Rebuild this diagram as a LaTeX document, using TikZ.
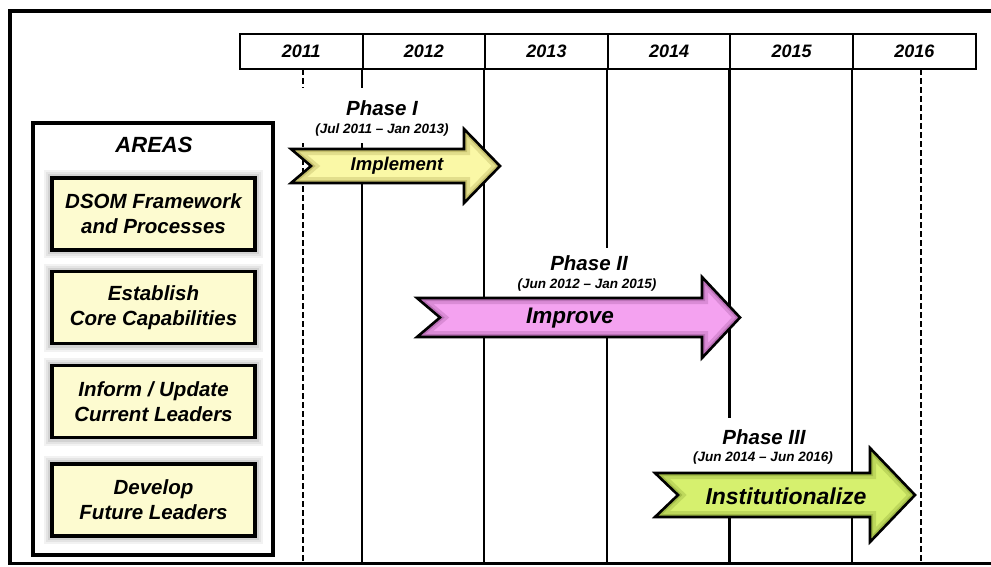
\documentclass[tikz,border=0pt]{standalone}
\usepackage{fontspec}
\setmainfont{Liberation Sans}
\definecolor{ylw}{HTML}{FAF8A6}
\definecolor{ylwd}{HTML}{9C9440}
\definecolor{pnk}{HTML}{F4A2F0}
\definecolor{pnkd}{HTML}{8E4A8A}
\definecolor{grn}{HTML}{D6F06E}
\definecolor{grnd}{HTML}{7A9428}
\definecolor{boxfill}{HTML}{FDFBD0}
\begin{document}
\begin{tikzpicture}[x=1pt,y=-1pt,
  yearcell/.style={draw, line width=2pt, minimum width=122.6pt, minimum height=35pt, inner sep=0pt,
    font=\fontsize{18}{20}\selectfont\bfseries\itshape},
  gridline/.style={line width=2.2pt},
  gridlined/.style={line width=2.2pt, dash pattern=on 6pt off 3pt},
  areasframe/.style={draw, line width=4.5pt, minimum width=240pt, minimum height=432pt, inner sep=0pt},
  areabox/.style={draw, line width=3.5pt, fill=boxfill, minimum width=203pt, minimum height=72pt,
    inner sep=0pt, align=center, font=\fontsize{20.5}{25}\selectfont\bfseries\itshape,
    preaction={draw=black, line width=16pt, opacity=0.05},
    preaction={draw=black, line width=12pt, opacity=0.06},
    preaction={draw=black, line width=8pt, opacity=0.08}},
  mask/.style={fill=white, inner sep=0pt},
  phasett/.style={font=\fontsize{20.5}{22}\selectfont\bfseries\itshape, inner sep=0pt},
  phasedt/.style={font=\fontsize{13.5}{15}\selectfont\bfseries\itshape, inner sep=0pt},
  arrowline/.style={draw, line width=2.6pt, line join=miter}
]
\useasboundingbox (0,0) rectangle (991,566);

% outer frame
\draw[line width=4.5pt] (995,11) -- (10,11) -- (10,563);
\draw[line width=3pt] (8,563) -- (995,563);

% year header
\node[yearcell] (y2011) at (301.3,51.5) {2011};
\node[yearcell] (y2012) at (423.9,51.5) {2012};
\node[yearcell] (y2013) at (546.5,51.5) {2013};
\node[yearcell] (y2014) at (669.1,51.5) {2014};
\node[yearcell] (y2015) at (791.7,51.5) {2015};
\node[yearcell] (y2016) at (914.3,51.5) {2016};

% vertical grid lines
\coordinate (b1) at (303,562);
\coordinate (b2) at (921,562);
\draw[gridlined] (303,69) -- (b1);
\draw[gridlined] (921,69) -- (b2);
\foreach \n in {2012,2013,2014,2015,2016}
  \draw[gridline] (y\n.south west) -- (y\n.south west |- b1);

% AREAS panel
\node[areasframe] (areas) at (153,339) {};
\node[font=\fontsize{22}{24}\selectfont\bfseries\itshape] (areastitle) at (154,145) {AREAS};
\node[areabox] (a1) at (153.5,214) {DSOM Framework\\and Processes};
\node[areabox] (a2) at (153.5,307.5) {Establish\\Core Capabilities};
\node[areabox] (a3) at (153.5,401.5) {Inform / Update\\Current Leaders};
\node[areabox] (a4) at (153.5,500) {Develop\\Future Leaders};

% phase label masks and texts
\node[mask, minimum width=172pt, minimum height=55pt] (m1) at (382,115.5) {};
\node[phasett] (p1) at (382,108) {Phase I};
\node[phasedt] (d1) at (382,130) {(Jul 2011 – Jan 2013)};

\node[mask, minimum width=170pt, minimum height=50pt] (m2) at (588,272.5) {};
\node[phasett] (p2) at (589,263.5) {Phase II};
\node[phasedt] (d2) at (587,285) {(Jun 2012 – Jan 2015)};

\node[mask, minimum width=170pt, minimum height=55pt] (m3) at (763,445) {};
\node[phasett] (p3) at (764,437) {Phase III};
\node[phasedt] (d3) at (763,458) {(Jun 2014 – Jun 2016)};

% Phase I arrow
\fill[ylw] (291,149) -- (464,149) -- (464,129) -- (500,166) -- (464,203) -- (464,183) -- (291,183) -- (311,166) -- cycle;
\begin{scope}
\clip (291,149) -- (464,149) -- (464,129) -- (500,166) -- (464,203) -- (464,183) -- (291,183) -- (311,166) -- cycle;
\draw[ylwd, line width=12pt, opacity=0.25] (291,149) -- (464,149) -- (464,129) -- (500,166) -- (464,203) -- (464,183) -- (291,183) -- (311,166) -- cycle;
\draw[ylwd, line width=6pt, opacity=0.4] (291,149) -- (464,149) -- (464,129) -- (500,166) -- (464,203) -- (464,183) -- (291,183) -- (311,166) -- cycle;
\end{scope}
\path[arrowline] (291,149) -- (464,149) -- (464,129) -- (500,166) -- (464,203) -- (464,183) -- (291,183) -- (311,166) -- cycle;
\node[font=\fontsize{18.5}{20}\selectfont\bfseries\itshape] (l1) at (397,166) {Implement};

% Phase II arrow
\fill[pnk] (417,298) -- (702,298) -- (702,277) -- (740,317.5) -- (702,358) -- (702,337) -- (417,337) -- (440,317.5) -- cycle;
\begin{scope}
\clip (417,298) -- (702,298) -- (702,277) -- (740,317.5) -- (702,358) -- (702,337) -- (417,337) -- (440,317.5) -- cycle;
\draw[pnkd, line width=12pt, opacity=0.25] (417,298) -- (702,298) -- (702,277) -- (740,317.5) -- (702,358) -- (702,337) -- (417,337) -- (440,317.5) -- cycle;
\draw[pnkd, line width=6pt, opacity=0.4] (417,298) -- (702,298) -- (702,277) -- (740,317.5) -- (702,358) -- (702,337) -- (417,337) -- (440,317.5) -- cycle;
\end{scope}
\path[arrowline] (417,298) -- (702,298) -- (702,277) -- (740,317.5) -- (702,358) -- (702,337) -- (417,337) -- (440,317.5) -- cycle;
\node[font=\fontsize{22.5}{24}\selectfont\bfseries\itshape] (l2) at (570,318) {Improve};

% Phase III arrow
\fill[grn] (655,473) -- (870,473) -- (870,448) -- (915,495) -- (870,542) -- (870,517) -- (655,517) -- (678,495) -- cycle;
\begin{scope}
\clip (655,473) -- (870,473) -- (870,448) -- (915,495) -- (870,542) -- (870,517) -- (655,517) -- (678,495) -- cycle;
\draw[grnd, line width=12pt, opacity=0.25] (655,473) -- (870,473) -- (870,448) -- (915,495) -- (870,542) -- (870,517) -- (655,517) -- (678,495) -- cycle;
\draw[grnd, line width=6pt, opacity=0.4] (655,473) -- (870,473) -- (870,448) -- (915,495) -- (870,542) -- (870,517) -- (655,517) -- (678,495) -- cycle;
\end{scope}
\path[arrowline] (655,473) -- (870,473) -- (870,448) -- (915,495) -- (870,542) -- (870,517) -- (655,517) -- (678,495) -- cycle;
\node[font=\fontsize{23}{25}\selectfont\bfseries\itshape] (l3) at (786,496) {Institutionalize};
\end{tikzpicture}
\end{document}
